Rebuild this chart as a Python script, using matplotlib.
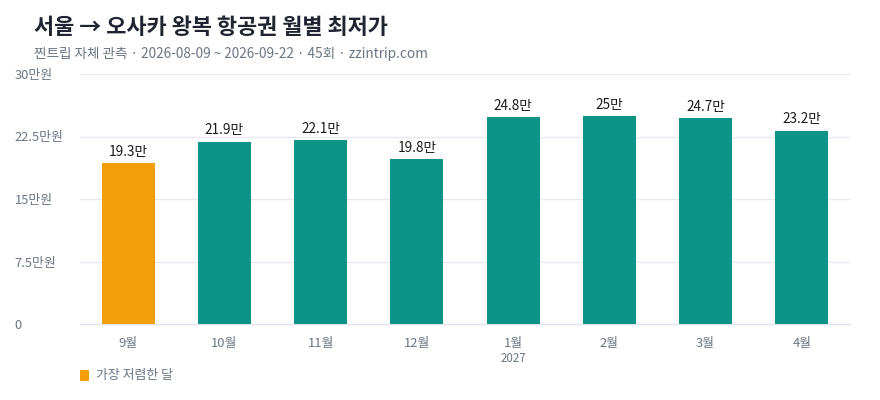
import matplotlib
matplotlib.use("Agg")
import matplotlib.pyplot as plt
from matplotlib.patches import Rectangle

plt.rcParams['font.family'] = ['Noto Sans CJK KR', 'DejaVu Sans']

months = ["9월", "10월", "11월", "12월", "1월", "2월", "3월", "4월"]
values = [19.3, 21.9, 22.1, 19.8, 24.8, 25.0, 24.7, 23.2]
value_labels = ["19.3만", "21.9만", "22.1만", "19.8만", "24.8만", "25만", "24.7만", "23.2만"]
yticks = [0, 7.5, 15, 22.5, 30]
ytick_labels = ["0", "7.5만원", "15만원", "22.5만원", "30만원"]
cheapest_idx = 0
year_label = "2027"
year_idx = 4

TEAL = "#0c9488"
ORANGE = "#f59e0b"
GRID = "#e6eaf0"
TICK = "#6b7585"

fig = plt.figure(figsize=(8.8, 4.0), dpi=100)
ax = fig.add_axes([80/880, 1 - 324/400, 770/880, 250/400])

x = list(range(len(months)))
colors = [ORANGE if i == cheapest_idx else TEAL for i in x]
bars = ax.bar(x, values, width=0.55, color=colors, zorder=3)

ax.set_xlim(-0.5, len(months) - 0.5)
ax.set_ylim(0, 30)
ax.set_yticks(yticks)
ax.set_yticklabels(ytick_labels)
ax.set_xticks(x)
ax.set_xticklabels(months)

for s in ["top", "right", "left"]:
    ax.spines[s].set_visible(False)
ax.spines["bottom"].set_color("#dfe4ea")
ax.spines["bottom"].set_linewidth(1.0)
ax.grid(axis="y", color=GRID, linewidth=1.0, zorder=0)
ax.tick_params(axis="both", length=0, colors=TICK, labelsize=9.3)
ax.tick_params(axis="y", pad=47)
for lab in ax.get_yticklabels():
    lab.set_horizontalalignment("left")
ax.tick_params(axis="x", pad=9)

for xi, v, lab in zip(x, values, value_labels):
    ax.annotate(lab, (xi, v), xytext=(0, 3), textcoords="offset points",
                ha="center", va="bottom", fontsize=9.8, fontweight="medium", color="#1a1a1a")

ax.annotate(year_label, (year_idx, 0), xytext=(0, -24.5), textcoords="offset points",
            ha="center", va="center", fontsize=8.3, color=TICK, annotation_clip=False)

fig.text(34/880, 1 - 27/400, "서울 → 오사카 왕복 항공권 월별 최저가", fontsize=15.8,
         fontweight="bold", color="#1f2430", va="center", ha="left")
fig.text(34/880, 1 - 54/400, "찐트립 자체 관측 · 2026-08-09 ~ 2026-09-22 · 45회 · zzintrip.com",
         fontsize=9.8, color=TICK, va="center", ha="left")

fig.patches.append(Rectangle((80/880, 1 - 381/400), 9/880, 11/400, transform=fig.transFigure,
                             facecolor=ORANGE, edgecolor="none"))
fig.text(96/880, 1 - 376/400, "가장 저렴한 달", fontsize=9.3, color=TICK, va="center", ha="left")

fig.savefig("out.png", dpi=100)
